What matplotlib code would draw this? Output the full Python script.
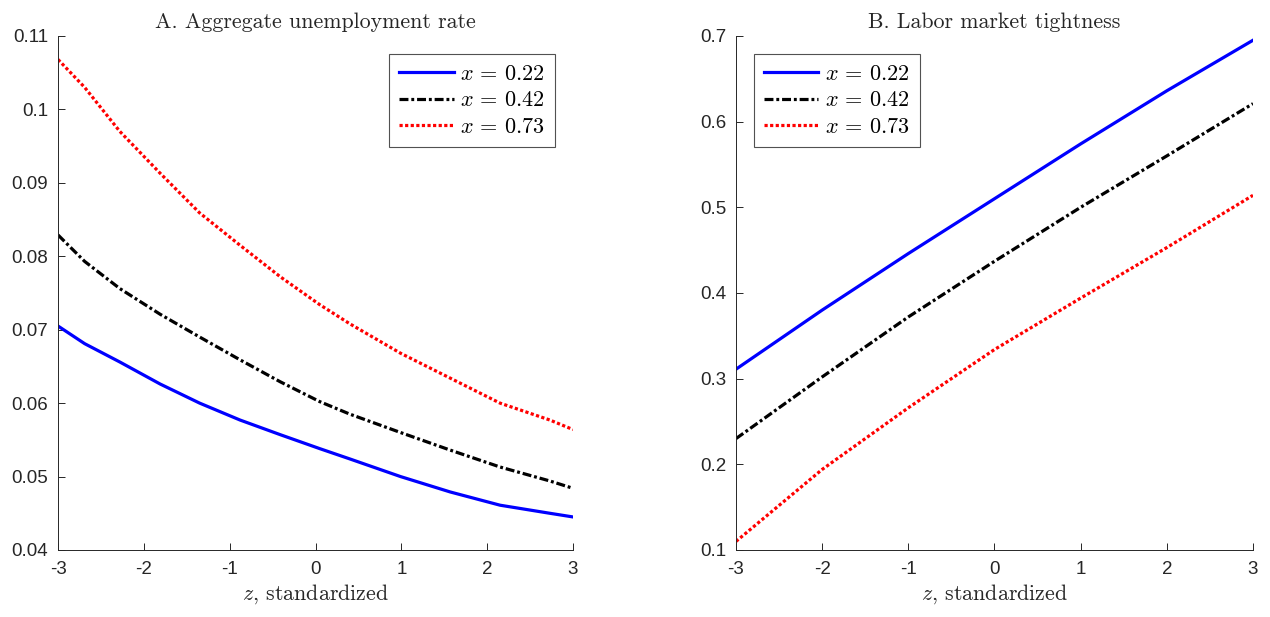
import matplotlib
matplotlib.use("Agg")
import matplotlib.pyplot as plt

plt.rcParams['mathtext.fontset'] = 'cm'
plt.rcParams['axes.unicode_minus'] = False

# Panel A: aggregate unemployment rate
z_a = [-3, -2.69, -2.28, -1.81, -1.35, -0.88, -0.41, 0.05, 0.40, 0.99, 1.57, 2.15, 2.73, 3]
u_022 = [0.0705, 0.0681, 0.0656, 0.0626, 0.0600, 0.0577, 0.0557, 0.0538, 0.0524, 0.0500, 0.0479, 0.0461, 0.0450, 0.0445]
u_042 = [0.0829, 0.0793, 0.0756, 0.0721, 0.0690, 0.0659, 0.0629, 0.0602, 0.0585, 0.0560, 0.0536, 0.0513, 0.0494, 0.0484]
u_073 = [0.1068, 0.1030, 0.0970, 0.0913, 0.0859, 0.0815, 0.0772, 0.0734, 0.0708, 0.0668, 0.0634, 0.0600, 0.0577, 0.0564]

# Panel B: labor market tightness
z_b = [-3, -2, -1, 0, 1, 2, 3]
t_022 = [0.311, 0.380, 0.446, 0.510, 0.574, 0.636, 0.695]
t_042 = [0.230, 0.302, 0.372, 0.437, 0.500, 0.560, 0.621]
t_073 = [0.110, 0.194, 0.266, 0.334, 0.394, 0.453, 0.514]

labels = [r'$x\,=\,0.22$', r'$x\,=\,0.42$', r'$x\,=\,0.73$']
xticks = [-3, -2, -1, 0, 1, 2, 3]
yticks_a = [0.04, 0.05, 0.06, 0.07, 0.08, 0.09, 0.10, 0.11]
yticklabels_a = ['0.04', '0.05', '0.06', '0.07', '0.08', '0.09', '0.1', '0.11']
yticks_b = [0.1, 0.2, 0.3, 0.4, 0.5, 0.6, 0.7]
yticklabels_b = ['0.1', '0.2', '0.3', '0.4', '0.5', '0.6', '0.7']

fig = plt.figure(figsize=(12.7, 6.17), dpi=100)
axA = fig.add_axes([0.0457, 0.1086, 0.4055, 0.8331])
axB = fig.add_axes([0.5795, 0.1086, 0.4071, 0.8331])

gray = '#262626'
styles = [dict(color='#0000ff', ls='-', lw=2.3),
          dict(color='black', ls=(0, (2.8, 0.9, 0.9, 0.9)), lw=2.3),
          dict(color='#ff0000', ls=(0, (1.0, 0.75)), lw=2.3)]

def style_ax(ax, title, yt, ytl, ylim):
    for s in ['top', 'right']:
        ax.spines[s].set_visible(False)
    for s in ['left', 'bottom']:
        ax.spines[s].set_color(gray)
        ax.spines[s].set_linewidth(0.7)
    ax.set_xlim(-3, 3)
    ax.set_ylim(*ylim)
    ax.set_xticks(xticks)
    ax.set_xticklabels([str(t) for t in xticks])
    ax.set_yticks(yt)
    ax.set_yticklabels(ytl)
    ax.tick_params(direction='in', length=5, width=0.7, colors=gray,
                   labelsize=13.5, labelcolor='#262626')
    ax.tick_params(axis='x', pad=8)
    ax.tick_params(axis='y', pad=7)
    for lab in ax.get_xticklabels() + ax.get_yticklabels():
        lab.set_fontfamily('Liberation Sans')
    ax.set_title(title, fontfamily='cmr10', fontsize=15.8, color='#262626', pad=6)
    ax.set_xlabel(r'$z$, standardized', fontfamily='cmr10', fontsize=15.8,
                  color='#262626', labelpad=3)

for ys, st, lb in zip([u_022, u_042, u_073], styles, labels):
    axA.plot(z_a, ys, label=lb, **st)
for ys, st, lb in zip([t_022, t_042, t_073], styles, labels):
    axB.plot(z_b, ys, label=lb, **st)

style_ax(axA, 'A. Aggregate unemployment rate', yticks_a, yticklabels_a, (0.04, 0.11))
style_ax(axB, 'B. Labor market tightness', yticks_b, yticklabels_b, (0.1, 0.7))

for ax, loc in [(axA, 'upper right'), (axB, 'upper left')]:
    leg = ax.legend(loc=loc, fontsize=16, frameon=True, fancybox=False,
                    handlelength=2.45, handletextpad=0.3, borderpad=0.45,
                    labelspacing=0.3, borderaxespad=0.8)
    leg.get_frame().set_edgecolor(gray)
    leg.get_frame().set_linewidth(0.8)

fig.savefig('out.png', dpi=100)
